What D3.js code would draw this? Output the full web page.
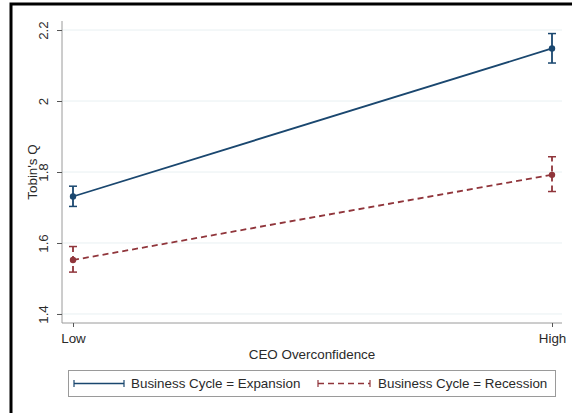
<!DOCTYPE html>
<html>
<head>
<meta charset="utf-8">
<script src="https://cdn.jsdelivr.net/npm/d3@7"></script>
<style>
body { margin: 0; background: #fff; }
text { font-family: "Liberation Sans", Arial, sans-serif; fill: #2a2a2a; }
</style>
</head>
<body>
<div id="chart"></div>
<script>
var categories = ["Low", "High"];
var expansion = [1.731, 2.148];
var expansionLo = [1.703, 2.107];
var expansionHi = [1.760, 2.190];
var recession = [1.552, 1.792];
var recessionLo = [1.518, 1.745];
var recessionHi = [1.590, 1.843];
var yTicks = [1.4, 1.6, 1.8, 2, 2.2];
var seriesNames = ["Business Cycle = Expansion", "Business Cycle = Recession"];

var width = 572, height = 413;
var blue = "#1a476f", red = "#90353b";
var fs = "13.4px";

var svg = d3.select("#chart").append("svg")
  .attr("width", width)
  .attr("height", height);

// outer frame (only top and left edge visible)
svg.append("rect")
  .attr("x", 11).attr("y", 4)
  .attr("width", 600).attr("height", 500)
  .attr("fill", "#fff")
  .attr("stroke", "#000")
  .attr("stroke-width", 3);

var x = d3.scalePoint()
  .domain(categories)
  .range([73, 552]);

var y = d3.scaleLinear()
  .domain([1.3746, 2.2254])
  .range([323, 21]);

var plotL = 62, plotR = 562;

// gridlines
svg.selectAll(".grid")
  .data(yTicks)
  .enter().append("line")
  .attr("class", "grid")
  .attr("x1", plotL).attr("x2", plotR)
  .attr("y1", function (d) { return y(d); })
  .attr("y2", function (d) { return y(d); })
  .attr("stroke", "#e8f0f2")
  .attr("stroke-width", 1);

// y axis
var yAxis = svg.append("g")
  .attr("transform", "translate(" + plotL + ",0)")
  .call(d3.axisLeft(y).tickValues(yTicks).tickSize(5).tickPadding(6)
    .tickFormat(function (d) { return d3.format("")(d); }));
yAxis.select(".domain").attr("stroke", "#9a9a9a").attr("d", "M0,21V323");
yAxis.selectAll(".tick line").attr("stroke", "#555");
yAxis.selectAll(".tick text")
  .attr("transform", "rotate(-90)")
  .attr("x", 0).attr("y", -19)
  .attr("dy", "0.35em")
  .style("text-anchor", "middle")
  .style("font-size", fs);

// x axis
var xAxis = svg.append("g")
  .attr("transform", "translate(0,323)")
  .call(d3.axisBottom(x).tickSize(4).tickPadding(6));
xAxis.select(".domain").attr("stroke", "#9a9a9a").attr("d", "M" + plotL + ",0H" + plotR);
xAxis.selectAll(".tick line").attr("stroke", "#555");
xAxis.selectAll(".tick text").style("font-size", fs);

svg.append("text")
  .attr("x", 312).attr("y", 359)
  .style("text-anchor", "middle")
  .style("font-size", fs)
  .text("CEO Overconfidence");

svg.append("text")
  .attr("transform", "translate(37,172) rotate(-90)")
  .style("text-anchor", "middle")
  .style("font-size", fs)
  .text("Tobin's Q");

function drawSeries(vals, lo, hi, color, dash) {
  var pts = categories.map(function (c, i) {
    return { c: c, v: vals[i], lo: lo[i], hi: hi[i] };
  });
  var line = d3.line()
    .x(function (d) { return x(d.c); })
    .y(function (d) { return y(d.v); });
  svg.append("path")
    .datum(pts)
    .attr("d", line)
    .attr("fill", "none")
    .attr("stroke", color)
    .attr("stroke-width", 1.8)
    .attr("stroke-dasharray", dash);

  var g = svg.append("g");
  g.selectAll(".ci")
    .data(pts).enter().append("line")
    .attr("x1", function (d) { return x(d.c); })
    .attr("x2", function (d) { return x(d.c); })
    .attr("y1", function (d) { return y(d.lo); })
    .attr("y2", function (d) { return y(d.hi); })
    .attr("stroke", color).attr("stroke-width", 1.8)
    .attr("stroke-dasharray", dash);
  ["lo", "hi"].forEach(function (k) {
    g.selectAll(".cap" + k)
      .data(pts).enter().append("line")
      .attr("x1", function (d) { return x(d.c) - 4; })
      .attr("x2", function (d) { return x(d.c) + 4; })
      .attr("y1", function (d) { return y(d[k]); })
      .attr("y2", function (d) { return y(d[k]); })
      .attr("stroke", color).attr("stroke-width", 1.5);
  });
  g.selectAll("circle")
    .data(pts).enter().append("circle")
    .attr("cx", function (d) { return x(d.c); })
    .attr("cy", function (d) { return y(d.v); })
    .attr("r", 3.2)
    .attr("fill", color);
}

drawSeries(expansion, expansionLo, expansionHi, blue, null);
drawSeries(recession, recessionLo, recessionHi, red, "6,4");

// legend
svg.append("rect")
  .attr("x", 68.5).attr("y", 370.5)
  .attr("width", 487).attr("height", 26)
  .attr("fill", "#fff")
  .attr("stroke", "#9a9a9a");

var legendItems = [
  { name: seriesNames[0], color: blue, dash: null, x1: 74, x2: 124, tx: 131 },
  { name: seriesNames[1], color: red, dash: "6,4", x1: 318, x2: 370, tx: 378 }
];
legendItems.forEach(function (d) {
  svg.append("line")
    .attr("x1", d.x1).attr("x2", d.x2)
    .attr("y1", 383.5).attr("y2", 383.5)
    .attr("stroke", d.color).attr("stroke-width", 1.5)
    .attr("stroke-dasharray", d.dash);
  [d.x1, d.x2].forEach(function (cx) {
    svg.append("line")
      .attr("x1", cx).attr("x2", cx)
      .attr("y1", 380).attr("y2", 387)
      .attr("stroke", d.color).attr("stroke-width", 1.2);
  });
  svg.append("text")
    .attr("x", d.tx).attr("y", 388)
    .style("font-size", fs)
    .text(d.name);
});
</script>
</body>
</html>
